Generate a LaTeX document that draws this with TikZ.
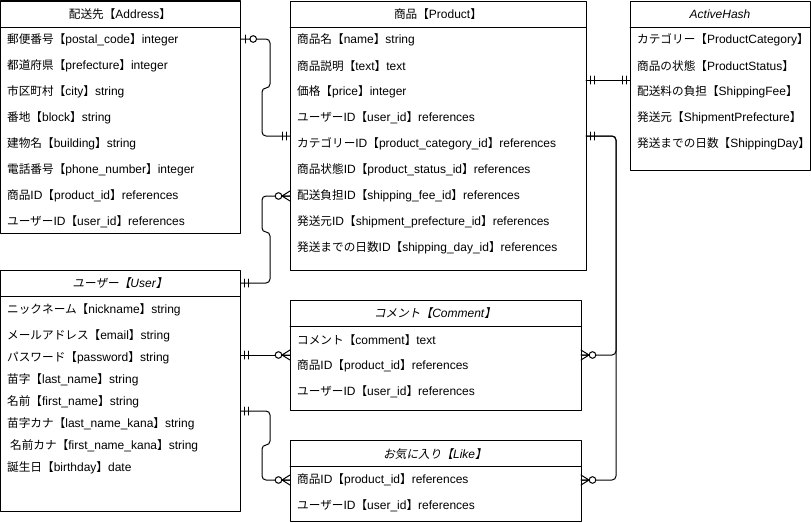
\documentclass[tikz,border=0pt]{standalone}
\usepackage{fontspec}
\usetikzlibrary{positioning}
\setmainfont{Liberation Sans}
\newfontfamily\cjkfont{Noto Sans CJK JP}[Scale=0.97,ItalicFont=Noto Sans CJK JP,ItalicFeatures={FakeSlant=0.2}]
% switch to the CJK font for kana, kanji and full-width signs
\XeTeXinterchartokenstate=1
\newXeTeXintercharclass\cjkclass
\makeatletter
\count@="3000
\loop\XeTeXcharclass\count@=\cjkclass\advance\count@ by 1 \ifnum\count@<"3100 \repeat
\count@="4E00
\loop\XeTeXcharclass\count@=\cjkclass\advance\count@ by 1 \ifnum\count@<"A000 \repeat
\count@="FF00
\loop\XeTeXcharclass\count@=\cjkclass\advance\count@ by 1 \ifnum\count@<"FFF0 \repeat
\makeatother
\XeTeXinterchartoks 0 \cjkclass = {\begingroup\cjkfont}
\XeTeXinterchartoks 4095 \cjkclass = {\begingroup\cjkfont}
\XeTeXinterchartoks \cjkclass 0 = {\endgroup}
\XeTeXinterchartoks \cjkclass 4095 = {\endgroup}

\tikzset{
  mandone/.pic={\draw[line width=1pt] (4,-4) -- (4,4) (8,-4) -- (8,4);},
  zeroone/.pic={\draw[line width=1pt] (4.5,-4) -- (4.5,4);
    \draw[line width=1pt,fill=white] (12.7,0) circle (3.3pt);},
  zeromany/.pic={\draw[line width=1pt] (0,-5) -- (8,0) -- (0,5) (0,0) -- (8,0);
    \draw[line width=1pt,fill=white] (11.5,0) circle (3.3pt);}
}

\begin{document}
\begin{tikzpicture}[x=1pt,y=-1pt,line cap=round,line join=round,
  font=\fontsize{12}{14}\selectfont,
  tbl/.style={draw,line width=1pt,inner sep=0pt,outer sep=0pt,anchor=north west},
  hdr/.style={inner sep=0pt},
  hdrit/.style={inner sep=0pt,font=\fontsize{12}{14}\selectfont\itshape},
  row/.style={inner sep=0pt,anchor=west},
  conn/.style={line width=1pt,rounded corners=4pt}]
\useasboundingbox (0,0) rectangle (811,522);
% tables
\node[tbl,minimum width=240pt,minimum height=232pt] (address) at (0.5,1) {};
\node[tbl,minimum width=296pt,minimum height=269pt] (product) at (290,1) {};
\node[tbl,minimum width=180pt,minimum height=169pt] (activehash) at (630,1) {};
\node[tbl,minimum width=240pt,minimum height=241pt] (user) at (0.5,270) {};
\node[tbl,minimum width=291pt,minimum height=110pt] (comment) at (290,300) {};
\node[tbl,minimum width=291pt,minimum height=81pt] (like) at (290,440) {};
\foreach \t in {address,product,activehash,user,comment,like}
  \draw[line width=1pt] ([yshift=-26pt]\t.north west) -- ([yshift=-26pt]\t.north east);
% headers
\node[hdr] (address-h) at (120,14) {配送先【Address】};
\node[hdr] (product-h) at (438,14) {商品【Product】};
\node[hdrit] (activehash-h) at (720,14) {ActiveHash};
\node[hdrit] (user-h) at (120,283) {ユーザー【User】};
\node[hdrit] (comment-h) at (435,313) {コメント【Comment】};
\node[hdrit] (like-h) at (435,454) {お気に入り【Like】};
% rows
\foreach \y/\t [count=\i] in {40/郵便番号【postal\_code】integer,66/都道府県【prefecture】integer,
  92/市区町村【city】string,118/番地【block】string,144/建物名【building】string,
  170/電話番号【phone\_number】integer,196/商品ID【product\_id】references,222/ユーザーID【user\_id】references}
  \node[row] (address-\i) at (7,\y) {\t};
\foreach \y/\t [count=\i] in {40/商品名【name】string,66/商品説明【text】text,92/価格【price】integer,
  118/ユーザーID【user\_id】references,144/カテゴリーID【product\_category\_id】references,
  170/商品状態ID【product\_status\_id】references,196/配送負担ID【shipping\_fee\_id】references,
  222/発送元ID【shipment\_prefecture\_id】references,248/発送までの日数ID【shipping\_day\_id】references}
  \node[row] (product-\i) at (297,\y) {\t};
\foreach \y/\t [count=\i] in {40/カテゴリー【ProductCategory】,66/商品の状態【ProductStatus】,
  92/配送料の負担【ShippingFee】,118/発送元【ShipmentPrefecture】,144/発送までの日数【ShippingDay】}
  \node[row] (activehash-\i) at (637,\y) {\t};
\foreach \y/\t [count=\i] in {310/ニックネーム【nickname】string,336/メールアドレス【email】string,
  358/パスワード【password】string,380/苗字【last\_name】string,402/名前【first\_name】string,
  424/苗字カナ【last\_name\_kana】string,446/\hspace{3pt}名前カナ【first\_name\_kana】string,468/誕生日【birthday】date}
  \node[row] (user-\i) at (7,\y) {\t};
\foreach \y/\t [count=\i] in {340/コメント【comment】text,366/商品ID【product\_id】references,392/ユーザーID【user\_id】references}
  \node[row] (comment-\i) at (297,\y) {\t};
\foreach \y/\t [count=\i] in {480/商品ID【product\_id】references,506/ユーザーID【user\_id】references}
  \node[row] (like-\i) at (297,\y) {\t};
% ports
\coordinate (a-out) at (address.east |- 0,39);
\coordinate (p-in1) at (product.west |- 0,136);
\coordinate (p-in2) at (product.west |- 0,196);
\coordinate (p-out1) at (product.east |- 0,80);
\coordinate (p-out2) at (product.east |- 0,136);
\coordinate (h-in) at (activehash.west |- 0,80);
\coordinate (u-out1) at (user.east |- 0,283);
\coordinate (u-out2) at (user.east |- 0,355);
\coordinate (u-out3) at (user.east |- 0,411);
\coordinate (c-in1) at (comment.west |- 0,355);
\coordinate (c-in2) at (comment.east |- 0,355);
\coordinate (l-in1) at (like.west |- 0,480);
\coordinate (l-in2) at (like.east |- 0,480);
% connectors
\draw[conn] (a-out) -- (270,39) -- (270,88) -- (262,88) -- (262,136) -- (p-in1);
\draw[conn] (p-in2) -- (262,196) -- (262,232) -- (270,232) -- (270,283) -- (u-out1);
\draw[conn] (u-out2) -- (c-in1);
\draw[conn] (u-out3) -- (270,411) -- (270,445) -- (262,445) -- (262,480) -- (l-in1);
\draw[conn] (p-out1) -- (h-in);
\draw[conn] (p-out2) -- (616,136) -- (616,355) -- (c-in2);
\draw[conn] (p-out2) -- (616,136) -- (616,480) -- (l-in2);
% ends
\pic at (a-out) {zeroone};
\pic[rotate=180] at (p-in1) {mandone};
\pic[rotate=180] at (p-in2) {zeromany};
\pic at (u-out1) {mandone};
\pic at (u-out2) {mandone};
\pic at (u-out3) {mandone};
\pic[rotate=180] at (c-in1) {zeromany};
\pic[rotate=180] at (l-in1) {zeromany};
\pic at (p-out1) {mandone};
\pic[rotate=180] at (h-in) {mandone};
\pic at (p-out2) {mandone};
\pic at (c-in2) {zeromany};
\pic at (l-in2) {zeromany};
\end{tikzpicture}
\end{document}
